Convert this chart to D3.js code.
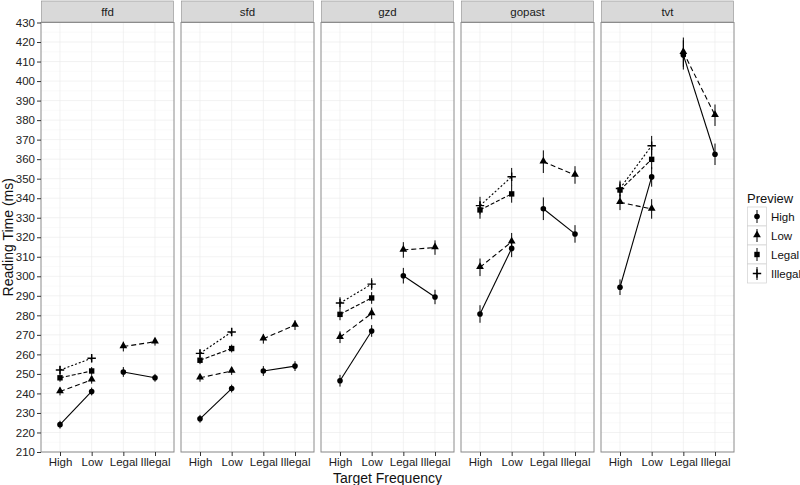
<!DOCTYPE html>
<html>
<head>
<meta charset="utf-8">
<script src="https://cdn.jsdelivr.net/npm/d3@7"></script>
<style>
  body { margin: 0; background: #fff; }
  text { font-family: "Liberation Sans", Arial, sans-serif; }
</style>
</head>
<body>
<div class="chart"></div>
<script>
// DATA
var facets = ["ffd", "sfd", "gzd", "gopast", "tvt"];
var targetFreq = ["High", "Low", "Legal", "Illegal"];
var previews = ["High", "Low", "Legal", "Illegal"];
var yTicks = d3.range(210, 431, 10);

// mean reading time per facet, per preview, at each target frequency (null = no point)
var ffdHigh = [224, 241, 251, 248];
var ffdLow = [241, 247, 264, 266.5];
var ffdLegal = [248, 251.5, null, null];
var ffdIllegal = [252, 258, null, null];

var sfdHigh = [227, 242.5, 251.5, 254];
var sfdLow = [248, 251.5, 268, 275];
var sfdLegal = [257, 263, null, null];
var sfdIllegal = [260.5, 271.5, null, null];

var gzdHigh = [246.5, 272, 300.3, 289.4];
var gzdLow = [268.8, 281, 313.5, 314.7];
var gzdLegal = [280.5, 288.9, null, null];
var gzdIllegal = [286.3, 296, null, null];

var gopastHigh = [280.7, 314.3, 334.6, 321.7];
var gopastLow = [304.6, 317.7, 358.7, 351.9];
var gopastLegal = [334, 342.2, null, null];
var gopastIllegal = [336.2, 351, null, null];

var tvtHigh = [294.4, 350.9, 413.4, 362.5];
var tvtLow = [337.9, 334.5, 414.8, 382.5];
var tvtLegal = [344.2, 359.9, null, null];
var tvtIllegal = [345, 366.9, null, null];

// error bar half widths (ms)
var ffdErr = [2, 2, 2.5, 2];
var sfdErr = [2, 2, 2.5, 2.5];
var gzdErr = [3, 3, 4, 3.7];
var gopastErr = [4.5, 4.5, 5.8, 4.5];
var tvtErr = [4, 5, 7.5, 5.5];

var means = {
  ffd: [ffdHigh, ffdLow, ffdLegal, ffdIllegal],
  sfd: [sfdHigh, sfdLow, sfdLegal, sfdIllegal],
  gzd: [gzdHigh, gzdLow, gzdLegal, gzdIllegal],
  gopast: [gopastHigh, gopastLow, gopastLegal, gopastIllegal],
  tvt: [tvtHigh, tvtLow, tvtLegal, tvtIllegal]
};
var errs = { ffd: ffdErr, sfd: sfdErr, gzd: gzdErr, gopast: gopastErr, tvt: tvtErr };

// SET UP SIZE & LOCATION OF PANELS
var svgWidth = 800;
var svgHeight = 485;
var panelLeft = 41;
var panelW = 133;
var panelGap = 7;
var panelTop = 22.5;
var panelBottom = 452;
var stripH = 21;

var dashes = { High: null, Low: "5,3", Legal: "4,2", Illegal: "2,2" };

var svg = d3.select(".chart")
  .append("svg")
  .attr("width", svgWidth)
  .attr("height", svgHeight);

var yScale = d3.scaleLinear()
  .domain([210, 430])
  .range([panelBottom, panelTop]);

var xScale = d3.scalePoint()
  .domain(targetFreq)
  .range([0, panelW])
  .padding(0.6);

// draw a point symbol for one preview level
function drawShape(g, preview, x, y) {
  if (preview === "High") {
    g.append("circle").attr("cx", x).attr("cy", y).attr("r", 2.8).attr("fill", "#000");
  } else if (preview === "Low") {
    g.append("path")
      .attr("d", d3.symbol().type(d3.symbolTriangle).size(26)())
      .attr("transform", `translate(${x},${y - 0.5})`)
      .attr("fill", "#000");
  } else if (preview === "Legal") {
    g.append("rect").attr("x", x - 2.7).attr("y", y - 2.7)
      .attr("width", 5.4).attr("height", 5.4).attr("fill", "#000");
  } else {
    g.append("path")
      .attr("d", `M${x - 4.2},${y}H${x + 4.2}M${x},${y - 4.2}V${y + 4.2}`)
      .attr("stroke", "#000").attr("stroke-width", 1.4);
  }
}

facets.forEach(function(facet, fi) {
  var x0 = panelLeft + fi * (panelW + panelGap);
  var g = svg.append("g").attr("transform", `translate(${x0},0)`);

  // panel background + grid
  g.append("rect")
    .attr("x", 0).attr("y", panelTop)
    .attr("width", panelW).attr("height", panelBottom - panelTop)
    .attr("fill", "#fff");

  yTicks.slice(0, -1).forEach(function(t) {
    g.append("line")
      .attr("x1", 0).attr("x2", panelW)
      .attr("y1", yScale(t + 5)).attr("y2", yScale(t + 5))
      .attr("stroke", "#f7f7f7").attr("stroke-width", 0.6);
  });
  yTicks.forEach(function(t) {
    g.append("line")
      .attr("x1", 0).attr("x2", panelW)
      .attr("y1", yScale(t)).attr("y2", yScale(t))
      .attr("stroke", "#ececec").attr("stroke-width", 0.7);
  });
  targetFreq.forEach(function(c) {
    g.append("line")
      .attr("x1", xScale(c)).attr("x2", xScale(c))
      .attr("y1", panelTop).attr("y2", panelBottom)
      .attr("stroke", "#ececec").attr("stroke-width", 0.7);
  });

  // strip
  g.append("rect")
    .attr("x", 0.5).attr("y", 1)
    .attr("width", panelW - 1).attr("height", stripH)
    .attr("fill", "#d9d9d9")
    .attr("stroke", "#8c8c8c").attr("stroke-width", 0.6);
  g.append("text")
    .attr("x", panelW / 2).attr("y", 1 + stripH / 2)
    .attr("dy", "0.35em")
    .attr("text-anchor", "middle")
    .attr("font-size", 11.5)
    .attr("fill", "#1a1a1a")
    .text(facet);

  // lines: High-Low for all previews, Legal-Illegal only where present
  previews.forEach(function(p, pi) {
    var vals = means[facet][pi];
    [[0, 1], [2, 3]].forEach(function(pair) {
      var a = vals[pair[0]], b = vals[pair[1]];
      if (a == null || b == null) return;
      g.append("line")
        .attr("x1", xScale(targetFreq[pair[0]])).attr("y1", yScale(a))
        .attr("x2", xScale(targetFreq[pair[1]])).attr("y2", yScale(b))
        .attr("stroke", "#000").attr("stroke-width", 1.1)
        .attr("stroke-dasharray", dashes[p]);
    });
  });

  // error bars + points
  previews.forEach(function(p, pi) {
    var vals = means[facet][pi];
    vals.forEach(function(v, ci) {
      if (v == null) return;
      var cx = xScale(targetFreq[ci]);
      var e = errs[facet][ci];
      g.append("line")
        .attr("x1", cx).attr("x2", cx)
        .attr("y1", yScale(v - e)).attr("y2", yScale(v + e))
        .attr("stroke", "#000").attr("stroke-width", 1);
      drawShape(g, p, cx, yScale(v));
    });
  });

  // panel border
  g.append("rect")
    .attr("x", 0).attr("y", panelTop)
    .attr("width", panelW).attr("height", panelBottom - panelTop)
    .attr("fill", "none")
    .attr("stroke", "#8c8c8c").attr("stroke-width", 1);

  // x axis
  var xAxis = g.append("g")
    .attr("transform", `translate(0,${panelBottom})`)
    .call(d3.axisBottom(xScale).tickSize(4).tickPadding(2));
  xAxis.select(".domain").remove();
  xAxis.selectAll("line").attr("stroke", "#333");
  xAxis.selectAll("text")
    .attr("font-size", 11.5)
    .attr("fill", "#222")
    .style("font-family", "Liberation Sans, Arial, sans-serif");
});

// y axis
var yAxis = svg.append("g")
  .attr("transform", `translate(${panelLeft},0)`)
  .call(d3.axisLeft(yScale).tickValues(yTicks).tickSize(4).tickPadding(2));
yAxis.select(".domain").remove();
yAxis.selectAll("line").attr("stroke", "#333");
yAxis.selectAll("text")
  .attr("font-size", 11.5)
  .attr("fill", "#222")
  .style("font-family", "Liberation Sans, Arial, sans-serif");

// axis titles
svg.append("text")
  .attr("transform", `translate(8,${(panelTop + panelBottom) / 2}) rotate(-90)`)
  .attr("text-anchor", "middle")
  .attr("dy", "0.35em")
  .attr("font-size", 14)
  .attr("fill", "#111")
  .text("Reading Time (ms)");

var plotRight = panelLeft + 5 * panelW + 4 * panelGap;
svg.append("text")
  .attr("x", (panelLeft + plotRight) / 2)
  .attr("y", 478)
  .attr("dy", "0.35em")
  .attr("text-anchor", "middle")
  .attr("font-size", 14)
  .attr("fill", "#111")
  .text("Target Frequency");

// legend
var legend = svg.append("g").attr("transform", "translate(747,0)");
legend.append("text")
  .attr("x", 0).attr("y", 203)
  .attr("font-size", 13)
  .attr("fill", "#111")
  .text("Preview");

previews.forEach(function(p, i) {
  var ky = 207 + i * 19;
  legend.append("rect")
    .attr("x", 0.5).attr("y", ky)
    .attr("width", 19).attr("height", 19)
    .attr("fill", "#fff")
    .attr("stroke", "#d0d0d0").attr("stroke-width", 0.7);
  legend.append("line")
    .attr("x1", 10).attr("x2", 10)
    .attr("y1", ky + 3).attr("y2", ky + 16)
    .attr("stroke", "#000").attr("stroke-width", 1);
  drawShape(legend, p, 10, ky + 9.5);
  legend.append("text")
    .attr("x", 24).attr("y", ky + 9.5)
    .attr("dy", "0.35em")
    .attr("font-size", 11.5)
    .attr("fill", "#111")
    .text(p);
});
</script>
</body>
</html>
